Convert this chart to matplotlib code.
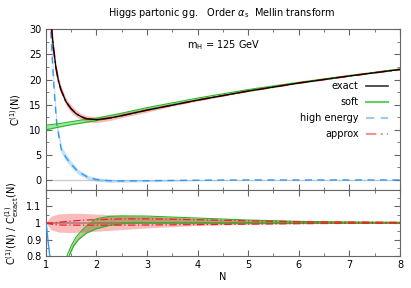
import numpy as np
import matplotlib
matplotlib.use("Agg")
import matplotlib.pyplot as plt
from matplotlib.lines import Line2D

# ---------------- data ----------------
# top panel: C^(1)(N)
N_exact = [1.12, 1.15, 1.2, 1.25, 1.3, 1.4, 1.5, 1.6, 1.7, 1.8, 2.0, 2.25, 2.5, 3.0, 3.5, 4.0, 5.0, 6.0, 7.0, 8.0]
C_exact = [30.0, 26.5, 22.5, 19.8, 18.0, 15.6, 14.2, 13.2, 12.6, 12.2, 12.0, 12.3, 12.8, 13.9, 14.9, 15.9, 17.7, 19.3, 20.7, 22.0]

N_approx = [1.11, 1.15, 1.2, 1.25, 1.3, 1.4, 1.5, 1.6, 1.7, 1.8, 2.0, 2.25, 2.5, 3.0, 3.5, 4.0, 5.0, 6.0, 7.0, 8.0]
C_approx = [30.5, 26.5, 22.5, 19.8, 18.0, 15.6, 14.2, 13.2, 12.6, 12.2, 12.0, 12.3, 12.8, 13.9, 14.9, 15.9, 17.7, 19.3, 20.7, 22.0]
C_approx_lo = [29.5, 25.5, 21.6, 19.0, 17.2, 14.9, 13.5, 12.6, 12.0, 11.6, 11.4, 11.8, 12.4, 13.5, 14.7, 15.7, 17.6, 19.2, 20.65, 21.95]
C_approx_hi = [31.5, 27.5, 23.4, 20.6, 18.8, 16.3, 14.9, 13.9, 13.2, 12.8, 12.6, 12.9, 13.4, 14.4, 15.3, 16.2, 17.9, 19.45, 20.8, 22.1]

N_soft = [1.0, 1.25, 1.5, 1.75, 2.0, 2.5, 3.0, 4.0, 5.0, 6.0, 7.0, 8.0]
C_soft_lo = [10.0, 10.5, 11.0, 11.4, 11.8, 12.8, 13.9, 15.9, 17.7, 19.3, 20.7, 22.0]
C_soft_hi = [10.9, 11.2, 11.6, 12.0, 12.3, 13.3, 14.4, 16.3, 18.0, 19.45, 20.8, 22.1]

N_he = [1.09, 1.1, 1.13, 1.18, 1.22, 1.25, 1.31, 1.4, 1.48, 1.64, 1.84, 2.0, 2.25, 2.5, 3.0, 4.0, 5.0, 6.0, 7.0, 8.0]
C_he = [32.0, 30.0, 24.0, 16.0, 11.0, 9.3, 6.0, 4.5, 3.4, 1.65, 0.5, 0.1, -0.15, -0.2, -0.15, -0.05, 0.0, 0.0, 0.0, 0.0]
C_he_lo = [30.0, 28.0, 22.2, 14.6, 10.0, 8.4, 5.3, 3.8, 2.8, 1.15, 0.1, -0.25, -0.45, -0.45, -0.35, -0.15, -0.05, -0.05, -0.05, -0.05]
C_he_hi = [34.0, 32.0, 25.8, 17.4, 12.0, 10.2, 6.7, 5.2, 4.0, 2.15, 0.9, 0.45, 0.15, 0.05, 0.05, 0.05, 0.05, 0.05, 0.05, 0.05]

# bottom panel: ratio to exact
R_N_approx = [1.0, 1.1, 1.25, 1.5, 1.75, 2.0, 2.5, 3.0, 3.5, 4.0, 5.0, 6.0, 7.0, 8.0]
R_approx_band_hi = [1.0, 1.04, 1.055, 1.059, 1.058, 1.054, 1.047, 1.04, 1.033, 1.026, 1.016, 1.01, 1.007, 1.005]
R_approx_band_lo = [1.0, 0.96, 0.945, 0.942, 0.945, 0.95, 0.96, 0.97, 0.978, 0.985, 0.992, 0.996, 0.998, 0.999]
R_approx_up = [1.0, 1.0, 1.004, 1.012, 1.017, 1.02, 1.025, 1.025, 1.023, 1.02, 1.013, 1.008, 1.006, 1.004]
R_approx_dn = [1.0, 0.993, 0.988, 0.987, 0.987, 0.987, 0.987, 0.988, 0.989, 0.99, 0.993, 0.996, 0.998, 0.999]

R_N_soft_up = [1.42, 1.5, 1.6, 1.7, 1.8, 2.0, 2.25, 2.5, 3.0, 4.0, 5.0, 6.0, 7.0, 8.0]
R_soft_up = [0.8, 0.86, 0.915, 0.95, 0.98, 1.025, 1.04, 1.043, 1.042, 1.03, 1.018, 1.01, 1.006, 1.004]
R_N_soft_dn = [1.46, 1.55, 1.65, 1.8, 2.0, 2.25, 2.5, 2.75, 3.0, 4.0, 5.0, 6.0, 7.0, 8.0]
R_soft_dn = [0.8, 0.86, 0.9, 0.938, 0.965, 0.985, 0.995, 0.999, 1.0, 1.0, 1.0, 1.0, 1.0, 1.0]

R_N_he = [1.0, 1.02, 1.05, 1.085]
R_he = [1.0, 0.97, 0.88, 0.79]

# ---------------- styles ----------------
c_exact = "black"
c_soft = "#22bb22"
c_he = "#3399ee"
c_approx = "#ee2222"
fs = 7

fig = plt.figure(figsize=(4.11, 2.88), dpi=100)
L, R = 45.7 / 411, 400 / 411
ax1 = fig.add_axes([L, 1 - 190 / 288, R - L, (190 - 29.3) / 288])
ax2 = fig.add_axes([L, 1 - 256 / 288, R - L, (256 - 190) / 288], sharex=ax1)

# ---- top panel ----
ax1.axhline(0, color="#cccccc", lw=1.0, zorder=1)
ax1.fill_between(N_he, C_he_lo, C_he_hi, color=c_he, alpha=0.3, lw=0, zorder=2)
ax1.plot(N_he, C_he, color=c_he, lw=1.0, ls=(0, (5, 4)), zorder=3)
ax1.fill_between(N_approx, C_approx_lo, C_approx_hi, color=c_approx, alpha=0.3, lw=0, zorder=2)
ax1.fill_between(N_soft, C_soft_lo, C_soft_hi, color=c_soft, alpha=0.4, lw=0, zorder=3)
ax1.plot(N_soft, C_soft_lo, color=c_soft, lw=0.8, zorder=4)
ax1.plot(N_soft, C_soft_hi, color=c_soft, lw=0.8, zorder=4)
ax1.plot(N_approx, C_approx, color=c_approx, lw=1.3, ls=(0, (6, 2, 1, 2)), zorder=5)
ax1.plot(N_exact, C_exact, color=c_exact, lw=0.9, zorder=6)

handles = [Line2D([], [], color=c_exact, lw=1.2, alpha=0.8),
           Line2D([], [], color=c_soft, lw=1.5, alpha=0.7),
           Line2D([], [], color=c_he, lw=1.5, alpha=0.5, ls=(0, (4, 3))),
           Line2D([], [], color=c_approx, lw=1.5, alpha=0.5, ls=(0, (5, 2, 1, 2)))]
ax1.legend(handles, ["exact", "soft", "high energy", "approx"], loc="upper right",
           bbox_to_anchor=(0.985, 0.72), frameon=False, markerfirst=False, fontsize=fs,
           handlelength=2.2, labelspacing=0.62, handletextpad=0.8, borderpad=0.2)

ax1.text(3.8, 26.8, r"m$_{\rm H}$ = 125 GeV", fontsize=fs, va="center", ha="left")
ax1.set_ylim(-2, 30)
ax1.set_yticks([0, 5, 10, 15, 20, 25, 30])
ax1.set_ylabel(r"C$^{(1)}$(N)", fontsize=fs, labelpad=4)
plt.setp(ax1.get_xticklabels(), visible=False)

# ---- bottom panel ----
ax2.axhline(1.0, color="#888888", lw=1.2, alpha=0.8, zorder=1)
ax2.fill_between(R_N_approx, R_approx_band_lo, R_approx_band_hi, color=c_approx, alpha=0.3, lw=0, zorder=2)
grid = np.union1d(R_N_soft_up, R_N_soft_dn)
su = np.interp(grid, R_N_soft_up, R_soft_up, left=np.nan)
sd = np.interp(grid, R_N_soft_dn, R_soft_dn, left=np.nan)
ax2.fill_between(grid, sd, su, color="#6f7a20", alpha=0.45, lw=0, zorder=3)
ax2.plot(R_N_soft_up, R_soft_up, color=c_soft, lw=0.8, zorder=4)
ax2.plot(R_N_soft_dn, R_soft_dn, color=c_soft, lw=0.8, zorder=4)
ax2.plot(R_N_approx, R_approx_up, color=c_approx, lw=0.9, ls=(0, (6, 2, 1, 2)), zorder=5)
ax2.plot(R_N_approx, R_approx_dn, color=c_approx, lw=0.9, ls=(0, (6, 2, 1, 2)), zorder=5)
ax2.plot(R_N_he, R_he, color=c_he, lw=1.0, zorder=5)
ax2.set_ylim(0.8, 1.2)
ax2.set_yticks([0.8, 0.9, 1.0, 1.1])
ax2.set_yticklabels(["0.8", "0.9", "1", "1.1"])
ax2.set_ylabel(r"C$^{(1)}$(N) / C$^{(1)}_{\rm exact}$(N)", fontsize=fs, labelpad=4)
ax2.set_xlim(1, 8)
ax2.set_xticks(range(1, 9))
ax2.set_xlabel("N", fontsize=fs, labelpad=1)

for ax in (ax1, ax2):
    ax.minorticks_on()
    ax.tick_params(which="both", direction="in", top=True, right=True, labelsize=fs,
                   color="#666666", pad=3)
    ax.tick_params(which="major", length=4)
    ax.tick_params(which="minor", length=2)
    for s in ax.spines.values():
        s.set_color("#666666")
        s.set_linewidth(0.8)
ax1.yaxis.set_minor_locator(matplotlib.ticker.MultipleLocator(2.5))
ax2.yaxis.set_minor_locator(matplotlib.ticker.MultipleLocator(0.05))
ax1.xaxis.set_minor_locator(matplotlib.ticker.MultipleLocator(0.5))

fig.align_ylabels([ax1, ax2])
fig.text(0.54, 0.955, r"Higgs partonic gg.   Order $\alpha_{\rm s}$  Mellin transform",
         fontsize=fs, ha="center", va="center")

fig.savefig("out.png", dpi=100)
